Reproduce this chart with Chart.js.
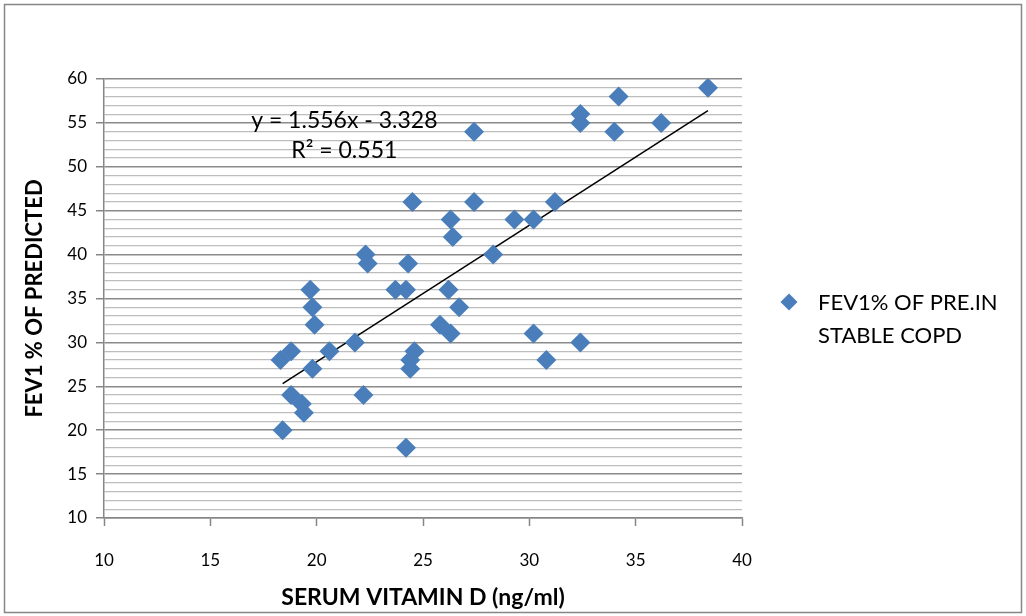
<!DOCTYPE html>
<html>
<head>
<meta charset="utf-8">
<script src="https://cdn.jsdelivr.net/npm/chart.js@4.4.0/dist/chart.umd.min.js"></script>
<style>
  html, body { margin: 0; padding: 0; background: #fff; }
</style>
</head>
<body>
<canvas id="fevChart" width="1026" height="616"></canvas>
<script>
// valores
const vitaminD = [18.4, 18.3, 18.8, 18.8, 19.3, 19.4, 19.7, 19.8, 19.9, 19.8, 20.6, 21.8, 22.3, 22.4, 22.2,
  23.7, 24.2, 24.3, 24.5, 24.6, 24.4, 24.4, 24.2, 25.8, 26.3, 26.2, 26.3, 26.4, 26.7, 27.4, 27.4, 28.3,
  29.3, 30.2, 30.2, 30.8, 31.2, 32.4, 32.4, 32.4, 34.0, 34.2, 36.2, 38.4];
const fev1 = [20, 28, 29, 24, 23, 22, 36, 34, 32, 27, 29, 30, 40, 39, 24,
  36, 36, 39, 46, 29, 28, 27, 18, 32, 31, 36, 44, 42, 34, 54, 46, 40,
  44, 44, 31, 28, 46, 56, 55, 30, 54, 58, 55, 59];
const trendX = [18.4, 38.4];
const trendY = [25.3, 56.4];
const trendText = ['y = 1.556x - 3.328', 'R² = 0.551'];
const legendText = ['FEV1% OF PRE.IN', 'STABLE COPD'];
const xTickLabels = [10, 15, 20, 25, 30, 35, 40];
const yTickLabels = [10, 15, 20, 25, 30, 35, 40, 45, 50, 55, 60];

const FONT = 'Lato';
const BLUE = '#4a7ebb';

const extras = {
    id: 'extras',
    afterDraw(chart) {
        const ctx = chart.ctx;
        const x = chart.scales.x, y = chart.scales.y;
        ctx.save();
        // ecuación de la tendencia
        ctx.fillStyle = '#000';
        ctx.font = '23px ' + FONT;
        ctx.textAlign = 'center';
        ctx.textBaseline = 'middle';
        ctx.fillText(trendText[0], x.getPixelForValue(21.3), y.getPixelForValue(55.3));
        ctx.fillText(trendText[1], x.getPixelForValue(21.3), y.getPixelForValue(51.9));

        // leyenda
        ctx.fillStyle = BLUE;
        ctx.beginPath();
        ctx.moveTo(789, 293.5); ctx.lineTo(797.5, 302); ctx.lineTo(789, 310.5); ctx.lineTo(780.5, 302);
        ctx.closePath();
        ctx.fill();
        ctx.fillStyle = '#000';
        ctx.font = '22px ' + FONT;
        ctx.textAlign = 'left';
        ctx.fillText(legendText[0], 818, 303);
        ctx.fillText(legendText[1], 818, 336);

        // marco
        ctx.strokeStyle = '#868686';
        ctx.lineWidth = 1.5;
        ctx.strokeRect(4.5, 4.5, 1017, 608);
        ctx.restore();
    }
};

new Chart(document.getElementById('fevChart').getContext('2d'), {
    type: 'scatter',
    data: {
        datasets: [{
            label: legendText.join(' '),
            data: vitaminD.map((v, i) => ({ x: v, y: fev1[i] })),
            backgroundColor: BLUE,
            borderColor: BLUE,
            borderWidth: 0,
            pointStyle: 'rectRot',
            pointRadius: 10,
            pointHoverRadius: 10
        }, {
            label: 'Linear',
            data: trendX.map((v, i) => ({ x: v, y: trendY[i] })),
            showLine: true,
            borderColor: '#000',
            borderWidth: 1.5,
            pointRadius: 0,
            fill: false
        }]
    },
    options: {
        responsive: false,
        devicePixelRatio: 1,
        animation: false,
        layout: { padding: { left: 0, right: 284, top: 79, bottom: 0 } },
        plugins: { legend: { display: false }, tooltip: { enabled: false } },
        scales: {
            x: {
                type: 'linear',
                min: 10, max: 40,
                afterFit(scale) { scale.height = 98; },
                ticks: {
                    stepSize: 5,
                    padding: 24,
                    color: '#000',
                    font: { family: FONT, size: 17 },
                    callback: v => xTickLabels.includes(v) ? String(v) : ''
                },
                grid: { drawOnChartArea: false, tickLength: 8, tickColor: '#868686', tickWidth: 1.5 },
                border: { color: '#868686', width: 1.5 },
                title: {
                    display: true,
                    text: 'SERUM VITAMIN D (ng/ml)',
                    color: '#000',
                    font: { family: FONT, size: 23, weight: 'bold' },
                    padding: { top: 0, bottom: 5 }
                }
            },
            y: {
                min: 10, max: 60,
                afterFit(scale) { scale.width = 104; },
                ticks: {
                    stepSize: 1,
                    autoSkip: false,
                    padding: 9,
                    color: '#000',
                    font: { family: FONT, size: 17 },
                    callback: v => yTickLabels.includes(v) ? String(v) : ''
                },
                grid: {
                    tickLength: 8,
                    color: c => c.tick && c.tick.value % 5 === 0 ? '#8a8a8a' : '#bdbdbd',
                    lineWidth: c => c.tick && c.tick.value % 5 === 0 ? 1.5 : 1.2,
                    tickColor: c => c.tick && c.tick.value % 5 === 0 ? '#868686' : 'rgba(0,0,0,0)'
                },
                border: { color: '#868686', width: 1.5 },
                title: {
                    display: true,
                    text: 'FEV1 % OF PREDICTED',
                    color: '#000',
                    font: { family: FONT, size: 22, weight: 'bold' },
                    padding: { top: 22, bottom: 0 }
                }
            }
        }
    },
    plugins: [extras]
});
</script>
</body>
</html>
